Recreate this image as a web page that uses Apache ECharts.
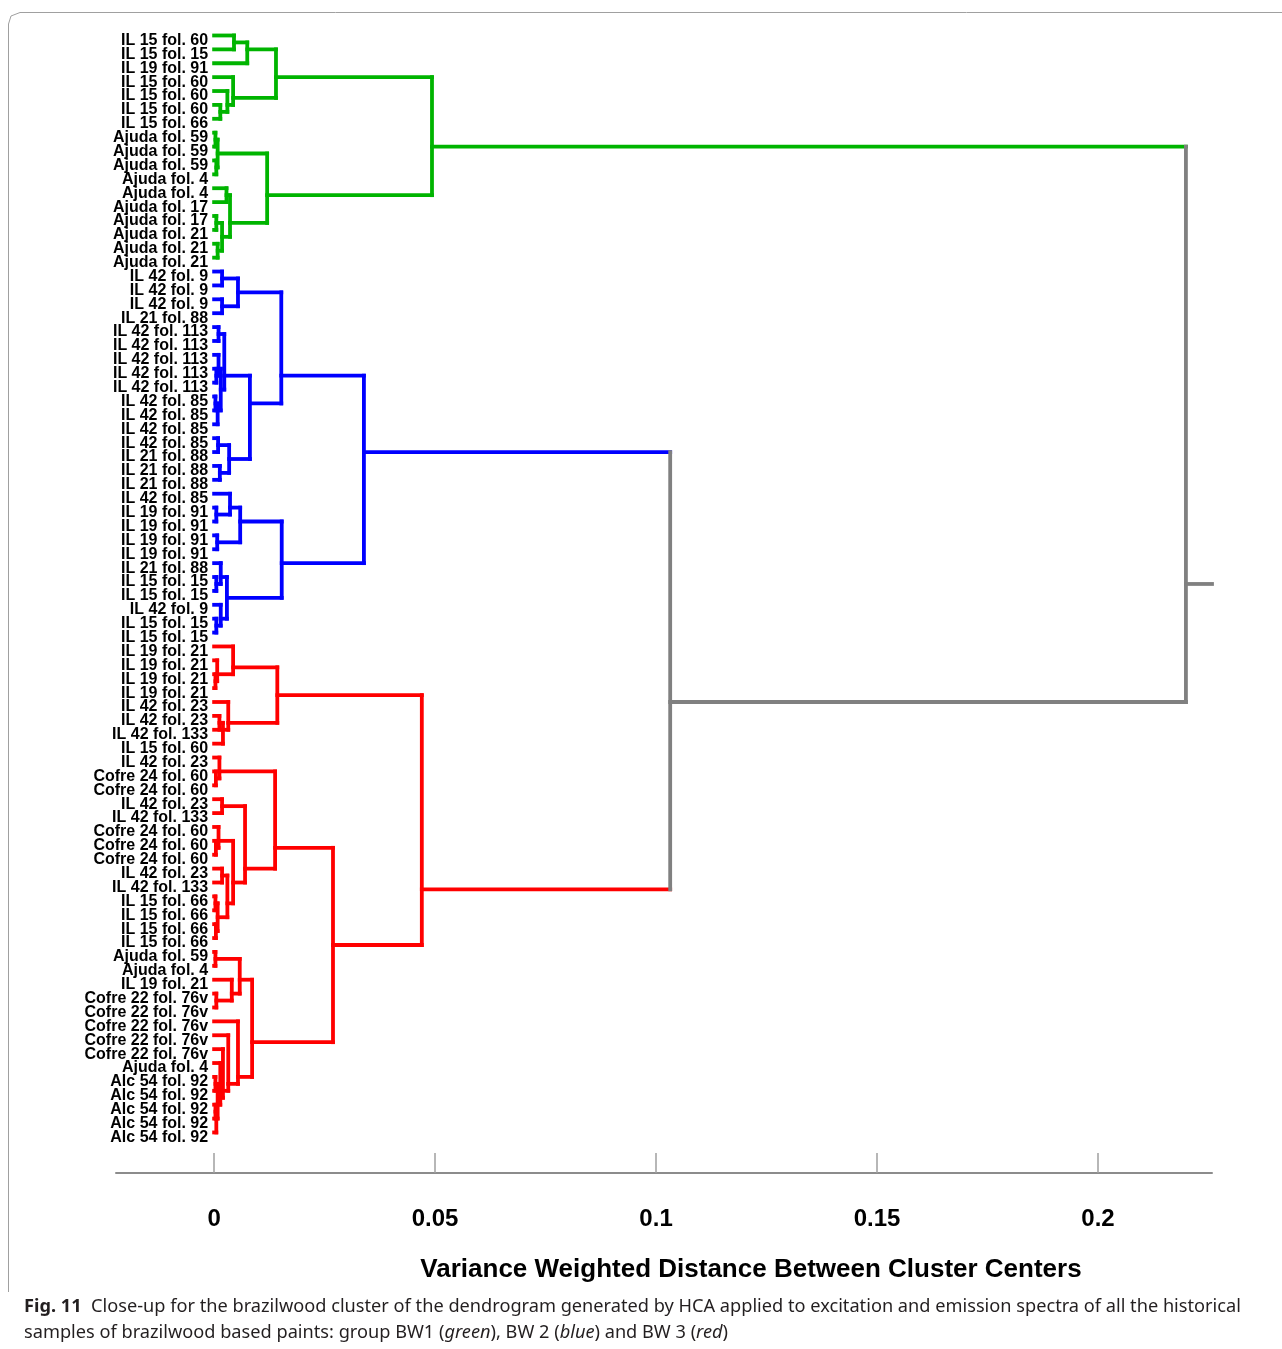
<!DOCTYPE html>
<html><head><meta charset="utf-8">
<script src="https://cdn.jsdelivr.net/npm/echarts@6/dist/echarts.min.js"></script>
<style>html,body{margin:0;padding:0;background:#fff}#c{width:1282px;height:1349px}</style>
</head><body><div id="c"></div>
<script>
// ---- data ----
const leafLabels = [
  'IL 15 fol. 60','IL 15 fol. 15','IL 19 fol. 91','IL 15 fol. 60','IL 15 fol. 60','IL 15 fol. 60','IL 15 fol. 66',
  'Ajuda fol. 59','Ajuda fol. 59','Ajuda fol. 59','Ajuda fol. 4','Ajuda fol. 4','Ajuda fol. 17','Ajuda fol. 17',
  'Ajuda fol. 21','Ajuda fol. 21','Ajuda fol. 21',
  'IL 42 fol. 9','IL 42 fol. 9','IL 42 fol. 9','IL 21 fol. 88',
  'IL 42 fol. 113','IL 42 fol. 113','IL 42 fol. 113','IL 42 fol. 113','IL 42 fol. 113',
  'IL 42 fol. 85','IL 42 fol. 85','IL 42 fol. 85','IL 42 fol. 85',
  'IL 21 fol. 88','IL 21 fol. 88','IL 21 fol. 88','IL 42 fol. 85',
  'IL 19 fol. 91','IL 19 fol. 91','IL 19 fol. 91','IL 19 fol. 91',
  'IL 21 fol. 88','IL 15 fol. 15','IL 15 fol. 15','IL 42 fol. 9','IL 15 fol. 15','IL 15 fol. 15',
  'IL 19 fol. 21','IL 19 fol. 21','IL 19 fol. 21','IL 19 fol. 21','IL 42 fol. 23','IL 42 fol. 23',
  'IL 42 fol. 133','IL 15 fol. 60','IL 42 fol. 23','Cofre 24 fol. 60','Cofre 24 fol. 60','IL 42 fol. 23',
  'IL 42 fol. 133','Cofre 24 fol. 60','Cofre 24 fol. 60','Cofre 24 fol. 60','IL 42 fol. 23','IL 42 fol. 133',
  'IL 15 fol. 66','IL 15 fol. 66','IL 15 fol. 66','IL 15 fol. 66','Ajuda fol. 59','Ajuda fol. 4','IL 19 fol. 21',
  'Cofre 22 fol. 76v','Cofre 22 fol. 76v','Cofre 22 fol. 76v','Cofre 22 fol. 76v','Cofre 22 fol. 76v',
  'Ajuda fol. 4','Alc 54 fol. 92','Alc 54 fol. 92','Alc 54 fol. 92','Alc 54 fol. 92','Alc 54 fol. 92'
];
const xTicks = [0, 0.05, 0.1, 0.15, 0.2];
// trees: [left, right, mergeDistance]; numbers are leaf indices
const greenTree = [
  [[[0, 1, 0.0045], 2, 0.0075], [3, [4, [5, 6, 0.0014], 0.003], 0.0043], 0.014],
  [[[7, 8, 0.0003], [9, 10, 0.0005], 0.0008],
   [[11, 12, 0.0028], [[13, 14, 0.0005], [15, 16, 0.0008], 0.0018], 0.0036], 0.012],
  0.0493];
const blueTree = [
  [[[17, 18, 0.0018], [19, 20, 0.0018], 0.0054],
   [[[21, 22, 0.001], [[23, [24, 25, 0.0005], 0.001], [[26, 27, 0.0003], 28, 0.0008], 0.0015], 0.0023],
    [[29, 30, 0.0009], [31, 32, 0.0013], 0.0034], 0.0081], 0.0152],
  [[[33, [34, 35, 0.0005], 0.0036], [36, 37, 0.0007], 0.0059],
   [[38, [39, 40, 0.0005], 0.0015], [41, [42, 43, 0.0005], 0.0015], 0.0029], 0.0153],
  0.0339];
const redTree = [
  [[44, [45, [46, 47, 0.0003], 0.0007], 0.0043], [48, [[49, 50, 0.0012], 51, 0.002], 0.0032], 0.0143],
  [[[52, [53, 54, 0.0004], 0.0012],
    [[55, 56, 0.0018], [[57, [58, 59, 0.0004], 0.001],
      [[60, 61, 0.0018], [[62, 63, 0.0003], [64, 65, 0.0004], 0.0008], 0.003], 0.0043], 0.007], 0.0138],
   [[[66, 67, 0.0003], [68, [69, 70, 0.0005], 0.004], 0.0058],
    [71, [72, [73, [74, [[75, 76, 0.0003], [[77, 78, 0.0003], 79, 0.0005], 0.0008], 0.0014], 0.002], 0.0032], 0.0054],
    0.0086], 0.0269],
  0.047];
const blueRedMerge = 0.1032;
const rootMerge = 0.2199;
const xMin = -0.0222, xMax = 0.2258;
const colorList = ['#00b400', '#0000ff', '#ff0000', '#808080'];

// ---- build link segments from the trees ----
const segs = [];
function addU(ca, cb, h, ci) {
  [ca, cb].forEach(c => { const y = (c.lo + c.hi) / 2; segs.push([c.h, y, h, y, c.ci]); });
  segs.push([h, (ca.lo + ca.hi) / 2, h, (cb.lo + cb.hi) / 2, ci]);
}
function build(node, ci) {
  if (typeof node === 'number') return {lo: node, hi: node, h: 0, ci};
  const a = build(node[0], ci), b = build(node[1], ci);
  addU(a, b, node[2], ci);
  return {lo: a.lo, hi: b.hi, h: node[2], ci};
}
const gN = build(greenTree, 0), bN = build(blueTree, 1), rN = build(redTree, 2);
addU(bN, rN, blueRedMerge, 3);
const brN = {lo: bN.lo, hi: rN.hi, h: blueRedMerge, ci: 3};
addU(gN, brN, rootMerge, 3);
const rootY = (gN.lo + brN.hi) / 2;
segs.push([rootMerge, rootY, xMax, rootY, 3]);

const gridLeft = 116, gridRight = 70, W = 1282;
const zeroOffset = -(0 - xMin) / (xMax - xMin) * (W - gridLeft - gridRight);

// two label axes (even / odd leaves) so that neighbouring labels are never auto-hidden
function leafAxis(parity) {
  return {
    type: 'value', inverse: true, min: -1, max: 81.92, position: 'left',
    offset: zeroOffset,
    axisLine: {show: false, onZero: false},
    axisTick: {show: false},
    splitLine: {show: false},
    axisLabel: {
      customValues: leafLabels.map((_, i) => i).filter(i => i % 2 === parity),
      formatter: v => leafLabels[Math.round(v)],
      hideOverlap: false, showMinLabel: true, showMaxLabel: true,
      margin: 6, fontSize: 16, fontWeight: 'bold', color: '#000', fontFamily: 'Liberation Sans',
      verticalAlign: 'top', lineHeight: 10
    }
  };
}

const chart = echarts.init(document.getElementById('c'));
chart.setOption({
  backgroundColor: '#fff',
  animation: false,
  grid: {left: gridLeft, right: gridRight, top: 21.6, bottom: 176, outerBoundsMode: 'none', containLabel: false},
  xAxis: {
    type: 'value', min: xMin, max: xMax,
    axisLine: {onZero: false, lineStyle: {color: '#8c8c8c', width: 2}},
    axisTick: {show: true, inside: true, length: 20, customValues: xTicks, lineStyle: {color: '#a0a0a0', width: 1.5}},
    axisLabel: {customValues: xTicks, margin: 34, fontSize: 24, fontWeight: 'bold', color: '#000', fontFamily: 'Liberation Sans'},
    splitLine: {show: false},
    name: 'Variance Weighted Distance Between Cluster Centers',
    nameLocation: 'middle', nameGap: 84,
    nameTextStyle: {fontSize: 26, fontWeight: 'bold', color: '#000', fontFamily: 'Liberation Sans', padding: [0, 0, 0, 174]}
  },
  yAxis: [leafAxis(0), leafAxis(1)],
  series: [{
    type: 'custom',
    data: segs,
    encode: {x: [0, 2], y: [1, 3]},
    yAxisIndex: 0,
    clip: false,
    renderItem: (params, api) => {
      const p1 = api.coord([api.value(0), api.value(1)]);
      const p2 = api.coord([api.value(2), api.value(3)]);
      return {type: 'line', shape: {x1: p1[0], y1: p1[1], x2: p2[0], y2: p2[1]},
        style: {stroke: colorList[api.value(4)], lineWidth: 3.8, lineCap: 'square'}};
    }
  }],
  graphic: [
    {type: 'polyline', shape: {points: [[8.5, 1292], [8.5, 24], [11, 16], [20, 12.5], [1282, 12.5]]},
     style: {fill: null, stroke: '#a0a0a0', lineWidth: 1}},
    {type: 'text', left: 24, top: 1298,
     style: {text: '{b|Fig. 11}  Close-up for the brazilwood cluster of the dendrogram generated by HCA applied to excitation and emission spectra of all the historical',
       fontSize: 18.2, fontFamily: 'Noto Sans', fill: '#231f20',
       rich: {b: {fontWeight: 'bold', fontSize: 18.2, fontFamily: 'Noto Sans', fill: '#231f20'}}}},
    {type: 'text', left: 24, top: 1324,
     style: {text: 'samples of brazilwood based paints: group BW1 ({i|green}), BW 2 ({i|blue}) and BW 3 ({i|red})',
       fontSize: 18.2, fontFamily: 'Noto Sans', fill: '#231f20',
       rich: {i: {fontStyle: 'italic', fontSize: 18.2, fontFamily: 'Noto Sans', fill: '#231f20'}}}}
  ]
});
</script></body></html>
